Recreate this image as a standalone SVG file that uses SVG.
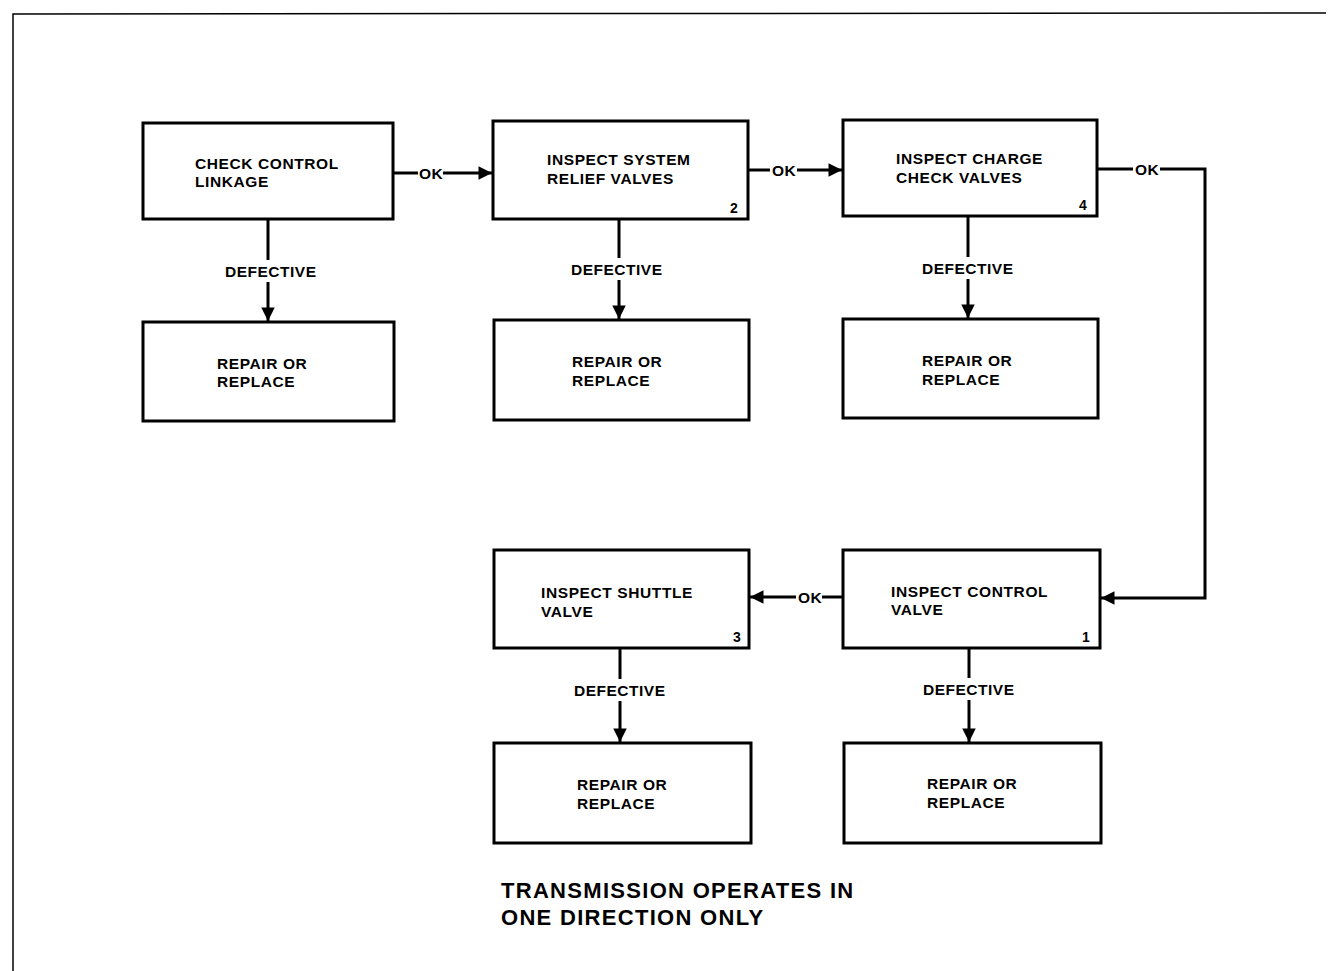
<svg xmlns="http://www.w3.org/2000/svg" width="1329" height="971" viewBox="0 0 1329 971">
<style>
.box{fill:#fff;stroke:#000;stroke-width:3}
.t{font-family:"Liberation Sans",Arial,sans-serif;font-weight:bold;font-size:15.5px;letter-spacing:0.6px;fill:#000}
.n{font-family:"Liberation Sans",Arial,sans-serif;font-weight:bold;font-size:14px;fill:#000}
.lbl{font-family:"Liberation Sans",Arial,sans-serif;font-weight:bold;font-size:15.5px;letter-spacing:0.5px;fill:#000}
.ln{fill:none;stroke:#000;stroke-width:3}
.big{font-family:"Liberation Sans",Arial,sans-serif;font-weight:bold;font-size:22px;letter-spacing:1.3px;fill:#000}
</style>
<defs>
<marker id="ah" viewBox="0 0 10 10" refX="10" refY="5" markerWidth="6" markerHeight="4.5" markerUnits="strokeWidth" orient="auto">
<path d="M0,0 L10,5 L0,10 z" fill="#000"/>
</marker>
</defs>
<rect width="1329" height="971" fill="#fff"/>
<path d="M13,971 L13,14 L1326,13" fill="none" stroke="#000" stroke-width="1.5"/>
<g id="connectors">
<line class="ln" x1="393" y1="173" x2="418" y2="173"/>
<line class="ln" x1="443" y1="173" x2="492" y2="173" marker-end="url(#ah)"/>
<text class="lbl" x="419" y="179">OK</text>
<line class="ln" x1="748" y1="170" x2="770" y2="170"/>
<line class="ln" x1="797" y1="170" x2="842" y2="170" marker-end="url(#ah)"/>
<text class="lbl" x="772" y="176">OK</text>
<line class="ln" x1="1097" y1="169" x2="1133" y2="169"/>
<path class="ln" d="M1160,169 L1205,169 L1205,598 L1101,598" marker-end="url(#ah)"/>
<text class="lbl" x="1135" y="175">OK</text>
<line class="ln" x1="843" y1="597" x2="822" y2="597"/>
<line class="ln" x1="796" y1="597" x2="750" y2="597" marker-end="url(#ah)"/>
<text class="lbl" x="798" y="603">OK</text>
<line class="ln" x1="268" y1="219" x2="268" y2="260"/>
<line class="ln" x1="268" y1="282" x2="268" y2="321" marker-end="url(#ah)"/>
<text class="lbl" x="225" y="277">DEFECTIVE</text>
<line class="ln" x1="619" y1="219" x2="619" y2="258"/>
<line class="ln" x1="619" y1="280" x2="619" y2="319" marker-end="url(#ah)"/>
<text class="lbl" x="571" y="275">DEFECTIVE</text>
<line class="ln" x1="968" y1="216" x2="968" y2="257"/>
<line class="ln" x1="968" y1="279" x2="968" y2="318" marker-end="url(#ah)"/>
<text class="lbl" x="922" y="274">DEFECTIVE</text>
<line class="ln" x1="620" y1="648" x2="620" y2="679"/>
<line class="ln" x1="620" y1="701" x2="620" y2="742" marker-end="url(#ah)"/>
<text class="lbl" x="574" y="696">DEFECTIVE</text>
<line class="ln" x1="969" y1="648" x2="969" y2="678"/>
<line class="ln" x1="969" y1="700" x2="969" y2="742" marker-end="url(#ah)"/>
<text class="lbl" x="923" y="695">DEFECTIVE</text>
</g>
<g id="check-linkage">
<rect class="box" x="143" y="123" width="250" height="96"/>
<text class="t" x="195" y="169">CHECK CONTROL</text>
<text class="t" x="195" y="187">LINKAGE</text>
</g>
<g id="relief-valves">
<rect class="box" x="493" y="121" width="255" height="98"/>
<text class="t" x="547" y="165">INSPECT SYSTEM</text>
<text class="t" x="547" y="184">RELIEF VALVES</text>
<text class="n" x="730" y="213">2</text>
</g>
<g id="charge-check">
<rect class="box" x="843" y="120" width="254" height="96"/>
<text class="t" x="896" y="164">INSPECT CHARGE</text>
<text class="t" x="896" y="183">CHECK VALVES</text>
<text class="n" x="1079" y="210">4</text>
</g>
<g id="repair-1">
<rect class="box" x="143" y="322" width="251" height="99"/>
<text class="t" x="217" y="369">REPAIR OR</text>
<text class="t" x="217" y="387">REPLACE</text>
</g>
<g id="repair-2">
<rect class="box" x="494" y="320" width="255" height="100"/>
<text class="t" x="572" y="367">REPAIR OR</text>
<text class="t" x="572" y="386">REPLACE</text>
</g>
<g id="repair-3">
<rect class="box" x="843" y="319" width="255" height="99"/>
<text class="t" x="922" y="366">REPAIR OR</text>
<text class="t" x="922" y="385">REPLACE</text>
</g>
<g id="shuttle-valve">
<rect class="box" x="494" y="550" width="255" height="98"/>
<text class="t" x="541" y="598">INSPECT SHUTTLE</text>
<text class="t" x="541" y="617">VALVE</text>
<text class="n" x="733" y="642">3</text>
</g>
<g id="control-valve">
<rect class="box" x="843" y="550" width="257" height="98"/>
<text class="t" x="891" y="597">INSPECT CONTROL</text>
<text class="t" x="891" y="615">VALVE</text>
<text class="n" x="1082" y="642">1</text>
</g>
<g id="repair-4">
<rect class="box" x="494" y="743" width="257" height="100"/>
<text class="t" x="577" y="790">REPAIR OR</text>
<text class="t" x="577" y="809">REPLACE</text>
</g>
<g id="repair-5">
<rect class="box" x="844" y="743" width="257" height="100"/>
<text class="t" x="927" y="789">REPAIR OR</text>
<text class="t" x="927" y="808">REPLACE</text>
</g>
<g id="caption">
<text class="big" x="501" y="898">TRANSMISSION OPERATES IN</text>
<text class="big" x="501" y="925">ONE DIRECTION ONLY</text>
</g>
</svg>
